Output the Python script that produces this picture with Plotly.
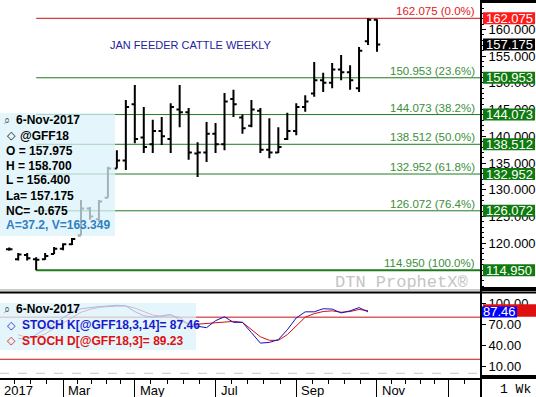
import plotly.graph_objects as go
import pandas as pd

# ---------------- data ----------------
bar_dates = list(pd.date_range("2017-01-23", periods=42, freq="7D"))  # weekly (Mondays) to 6-Nov-2017
open_ = [118.9, 117.0, 117.8, 117.0, 117.0, 118.0, 119.0, 119.8, 121.5, 126.5, 124.5, 128.5,
         134.0, 135.5, 146.0, 139.8, 138.5, 141.0, 139.5, 145.0, 144.5, 136.8, 137.0, 140.5,
         138.5, 147.0, 143.5, 142.0, 144.8, 137.5, 137.0, 139.5, 141.0, 145.5, 148.0, 150.5,
         150.0, 152.5, 152.0, 149.0, 157.8, 161.8]
high = [119.2, 118.2, 118.2, 117.4, 118.2, 119.3, 120.0, 121.0, 128.1, 126.8, 128.1, 134.3,
        137.4, 146.8, 149.6, 145.5, 143.1, 143.6, 146.2, 149.6, 145.3, 138.9, 142.7, 142.5,
        148.1, 148.7, 144.1, 146.8, 145.3, 143.4, 141.7, 144.4, 146.2, 147.7, 153.9, 151.9,
        153.7, 155.2, 153.3, 156.7, 162.075, 161.9]
low = [118.6, 116.8, 116.8, 114.95, 116.9, 118.0, 118.7, 119.7, 121.5, 124.4, 124.0, 128.5,
       134.0, 133.7, 138.7, 136.9, 136.9, 138.4, 136.9, 141.7, 135.6, 132.4, 135.2, 136.9,
       137.4, 143.6, 140.5, 141.7, 136.9, 135.9, 136.9, 139.3, 140.2, 144.6, 147.4, 148.3,
       149.0, 150.5, 148.7, 148.3, 157.1, 155.8]
close = [118.9, 117.9, 117.2, 116.9, 117.6, 119.0, 119.8, 120.8, 126.5, 125.0, 127.8, 134.0,
         135.5, 145.5, 139.5, 138.0, 141.0, 140.0, 145.5, 144.5, 137.0, 137.0, 140.5, 138.5,
         146.5, 146.0, 141.5, 145.0, 137.5, 137.0, 138.0, 141.0, 145.5, 146.5, 150.5, 150.0,
         152.5, 152.0, 150.5, 156.0, 161.8, 157.175]

stoch_dates = list(pd.date_range("2017-01-30", periods=40, freq="7D"))
stoch_k = [50, 48, 55, 63, 72, 80, 87, 92, 94, 95, 96, 97, 96, 88, 82, 80, 82, 84, 76,
           70, 67, 65, 75, 80.5, 72.6, 72.6, 58, 43, 44, 48, 62, 79, 87.6, 87.6, 92, 91.5,
           86, 89, 93.6, 87.46]
stoch_d = [55, 51, 52, 56, 64, 72, 80, 87, 91, 94, 95, 96, 96, 93, 88, 83, 81, 82, 80,
           69, 70, 71, 73, 74, 74, 72.6, 62, 52, 47, 47, 55, 68, 80, 85, 88, 89,
           87, 88, 91, 89.23]

fib_levels = [162.075, 150.953, 144.073, 138.512, 132.952, 126.072, 114.950]
fib_pcts = ["0.0%", "23.6%", "38.2%", "50.0%", "61.8%", "76.4%", "100.0%"]

price_ticks = [120, 125, 130, 135, 140, 145, 150, 155, 160]
stoch_ticks = [10, 40, 70, 100]
stoch_bands = [80, 20]

month_seps = ["2017-01-02", "2017-03-06", "2017-05-01", "2017-07-03", "2017-09-04", "2017-11-06", "2018-01-01"]
month_labels = ["2017", "Mar", "May", "Jul", "Sep", "Nov", ""]

info_lines = ["O = 157.975", "H = 158.700", "L = 156.400", "La= 157.175", "NC= -0.675"]
info_extra = "A=37.2, V=163.349"
symbol = "@GFF18"
data_date = "6-Nov-2017"
last_price = 157.175
k_last, d_last = 87.46, 89.23

# ---------------- layout constants ----------------
W, H = 536, 397
PW, PH = 481, 378           # plot area
x_range = ["2017-01-15 19:00", "2018-01-26 04:00"]
y_range = [111.45, 165.31]
y2_range = [-6.7, 113]
main_dom = [1 - 289 / PH, 1 - 1 / PH]
stoch_dom = [0, 1 - 294 / PH]
ppu = 5.348          # px per price unit
ppu2 = 0.70          # px per stoch unit

GREEN_LINE = "#1f7a1f"
GREEN_TXT = "#3a8f3a"
GREEN_BOX = "#0f7a0f"
RED = "#e02020"
FONT = "Arial, Liberation Sans, sans-serif"

fig = go.Figure()
fig.add_trace(go.Ohlc(x=bar_dates, open=open_, high=high, low=low, close=close,
                      increasing_line_color="black", decreasing_line_color="black",
                      line_width=2, tickwidth=0.36, xaxis="x", yaxis="y", hoverinfo="skip"))
fig.add_trace(go.Scatter(x=stoch_dates, y=stoch_d, mode="lines", line=dict(color="#d01010", width=1),
                         xaxis="x2", yaxis="y2", hoverinfo="skip"))
fig.add_trace(go.Scatter(x=stoch_dates, y=stoch_k, mode="lines", line=dict(color="#1010c8", width=1),
                         xaxis="x2", yaxis="y2", hoverinfo="skip"))

shapes = []
annotations = []

low_date = bar_dates[low.index(min(low))]
for lv, pct in zip(fib_levels, fib_pcts):
    is_top = pct == "0.0%"
    shapes.append(dict(type="line", xref="x", yref="y", x0=low_date, x1=x_range[1], y0=lv, y1=lv,
                       line=dict(color="#cc1010" if is_top else GREEN_LINE,
                                 width=2 if pct == "100.0%" else 1), layer="below"))
    annotations.append(dict(xref="paper", yref="y", x=477 / PW, y=lv, xanchor="right", yanchor="middle",
                            yshift=7, showarrow=False, text=f"{lv:.3f} ({pct})",
                            font=dict(family=FONT, size=11.5, color=RED if is_top else GREEN_TXT)))
    # right axis value box
    shapes.append(dict(type="rect", xref="paper", yref="y", x0=483 / PW, x1=535 / PW,
                       y0=lv - 6 / ppu, y1=lv + 6 / ppu, line=dict(width=0),
                       fillcolor="#ff1a1a" if is_top else GREEN_BOX, layer="above"))
    annotations.append(dict(xref="paper", yref="y", x=509 / PW, y=lv, xanchor="center", yanchor="middle",
                            showarrow=False, text=f"{lv:.3f}",
                            font=dict(family=FONT, size=13, color="white")))

# last price box
shapes.append(dict(type="rect", xref="paper", yref="y", x0=483 / PW, x1=535 / PW,
                   y0=last_price - 6 / ppu, y1=last_price + 6 / ppu, line=dict(width=0),
                   fillcolor="black", layer="above"))
annotations.append(dict(xref="paper", yref="y", x=509 / PW, y=last_price, xanchor="center", yanchor="middle",
                        showarrow=False, text=f"{last_price:.3f}", font=dict(family=FONT, size=13, color="white")))

# stoch bands
for b in stoch_bands:
    shapes.append(dict(type="line", xref="paper", yref="y2", x0=0, x1=1, y0=b, y1=b,
                       line=dict(color="#c81010", width=1), layer="below"))
shapes.append(dict(type="line", xref="paper", yref="y2", x0=0, x1=1, y0=0, y1=0,
                   line=dict(color="#c8c8c8", width=1, dash="dash"), layer="below"))
# stoch value boxes
shapes.append(dict(type="rect", xref="paper", yref="y2", x0=483 / PW, x1=536 / PW,
                   y0=d_last - 6 / ppu2, y1=d_last + 6.5 / ppu2, line=dict(width=0), fillcolor="#e01010", layer="above"))
shapes.append(dict(type="rect", xref="paper", yref="y2", x0=482 / PW, x1=517 / PW,
                   y0=k_last - 5.5 / ppu2, y1=k_last + 5.5 / ppu2, line=dict(width=0), fillcolor="#0000ff", layer="above"))
annotations.append(dict(xref="paper", yref="y2", x=499.5 / PW, y=k_last, xanchor="center", yanchor="middle",
                        showarrow=False, text=f"{k_last:.2f}", font=dict(family=FONT, size=13, color="white")))

# translucent info boxes (over the bars / lines)
def py(p):
    return 1 - p / PH

shapes.append(dict(type="rect", xref="paper", yref="paper", x0=0, x1=115 / PW, y0=py(236), y1=py(113),
                   line=dict(width=0), fillcolor="rgba(218,243,250,0.74)", layer="above"))
shapes.append(dict(type="rect", xref="paper", yref="paper", x0=0, x1=196 / PW, y0=py(350), y1=py(303),
                   line=dict(width=0), fillcolor="rgba(218,243,250,0.74)", layer="above"))

# panel separators / frame pieces
shapes += [
    dict(type="line", xref="paper", yref="paper", x0=0, x1=W / PW, y0=py(290), y1=py(290),
         line=dict(color="#9a9a9a", width=1), layer="above"),
    dict(type="line", xref="paper", yref="paper", x0=0, x1=W / PW, y0=py(292.5), y1=py(292.5),
         line=dict(color="black", width=2), layer="above"),
    dict(type="rect", xref="paper", yref="paper", x0=1, x1=W / PW, y0=py(291), y1=py(287),
         line=dict(width=0), fillcolor="black", layer="above"),
    dict(type="rect", xref="paper", yref="paper", x0=1, x1=W / PW, y0=py(3), y1=py(0),
         line=dict(width=0), fillcolor="black", layer="above"),
    dict(type="rect", xref="paper", yref="paper", x0=1, x1=W / PW, y0=py(379), y1=py(375),
         line=dict(width=0), fillcolor="black", layer="above"),
    dict(type="line", xref="paper", yref="paper", x0=1, x1=1, y0=py(397), y1=py(0),
         line=dict(color="black", width=2), layer="above"),
]

# title
annotations.append(dict(xref="paper", yref="paper", x=108 / PW, y=py(45), xanchor="left", yanchor="middle",
                        showarrow=False, text="JAN FEEDER CATTLE WEEKLY",
                        font=dict(family=FONT, size=11, color="#23239c")))
# watermark
annotations.append(dict(xref="paper", yref="paper", x=470 / PW, y=py(282), xanchor="right", yanchor="middle",
                        showarrow=False, text="DTN ProphetX®",
                        font=dict(family="Liberation Mono, Courier New, monospace", size=17, color="#c4c4c4")))

# info panel text
bold = dict(family=FONT, size=12, color="black")
annotations.append(dict(xref="paper", yref="paper", x=2 / PW, y=py(120), xanchor="left", yanchor="middle",
                        showarrow=False, text="⌕", font=dict(family="DejaVu Sans", size=11, color="#555")))
annotations.append(dict(xref="paper", yref="paper", x=14 / PW, y=py(120), xanchor="left", yanchor="middle",
                        showarrow=False, text=f"<b>{data_date}</b>", font=bold))
annotations.append(dict(xref="paper", yref="paper", x=5 / PW, y=py(135.5), xanchor="left", yanchor="middle",
                        showarrow=False, text="◇", font=dict(family="DejaVu Sans", size=11, color="black")))
annotations.append(dict(xref="paper", yref="paper", x=18 / PW, y=py(135.5), xanchor="left", yanchor="middle",
                        showarrow=False, text=f"<b>{symbol}</b>", font=bold))
for k, line in enumerate(info_lines):
    annotations.append(dict(xref="paper", yref="paper", x=4 / PW, y=py(150.5 + 15 * k), xanchor="left",
                            yanchor="middle", showarrow=False, text=f"<b>{line}</b>", font=bold))
annotations.append(dict(xref="paper", yref="paper", x=4 / PW, y=py(225.5), xanchor="left", yanchor="middle",
                        showarrow=False, text=f"<b>{info_extra}</b>",
                        font=dict(family=FONT, size=12, color="#2f7fc4")))

# stoch legend
annotations.append(dict(xref="paper", yref="paper", x=2 / PW, y=py(309), xanchor="left", yanchor="middle",
                        showarrow=False, text="⌕", font=dict(family="DejaVu Sans", size=11, color="#555")))
annotations.append(dict(xref="paper", yref="paper", x=14 / PW, y=py(309), xanchor="left", yanchor="middle",
                        showarrow=False, text=f"<b>{data_date}</b>", font=bold))
for yy, col, txt in [(325, "#1a1acc", f"STOCH K[{symbol},3,14]= {k_last:.2f}"),
                     (340.5, "#e01010", f"STOCH D[{symbol},3]= {d_last:.2f}")]:
    annotations.append(dict(xref="paper", yref="paper", x=5 / PW, y=py(yy), xanchor="left", yanchor="middle",
                            showarrow=False, text="◇", font=dict(family="DejaVu Sans", size=11, color=col)))
    annotations.append(dict(xref="paper", yref="paper", x=20 / PW, y=py(yy), xanchor="left", yanchor="middle",
                            showarrow=False, text=f"<b>{txt}</b>", font=dict(family=FONT, size=12, color=col)))

# x labels
for d, lab in zip(month_seps, month_labels):
    if not lab:
        continue
    if pd.Timestamp(d) < pd.Timestamp(x_range[0]):
        annotations.append(dict(xref="paper", yref="paper", x=2 / PW, y=py(390), xanchor="left",
                                yanchor="middle", showarrow=False, text=lab,
                                font=dict(family=FONT, size=13, color="black")))
    else:
        annotations.append(dict(xref="x2", yref="paper", x=d, y=py(390), xanchor="left", yanchor="middle",
                                xshift=3, showarrow=False, text=lab,
                                font=dict(family=FONT, size=13, color="black")))
annotations.append(dict(xref="paper", yref="paper", x=515 / PW, y=py(389), xanchor="center", yanchor="middle",
                        showarrow=False, text="1 Wk",
                        font=dict(family="Liberation Mono, Courier New, monospace", size=13, color="black")))

# minor ticks on the date axis: 4 between each separator pair
minor_vals = []
for a, b in zip(month_seps[:-1], month_seps[1:]):
    ta, tb = pd.Timestamp(a), pd.Timestamp(b)
    for j in range(1, 5):
        minor_vals.append(ta + (tb - ta) * j / 5)
minor_vals.append(pd.Timestamp(month_seps[-1]) + pd.Timedelta(days=12))

fig.update_layout(
    width=W, height=H, margin=dict(l=0, r=W - PW, t=0, b=H - PH),
    paper_bgcolor="white", plot_bgcolor="white", showlegend=False,
    shapes=shapes, annotations=annotations,
    xaxis=dict(domain=[0, 1], anchor="y", range=x_range, type="date", showticklabels=False,
               showgrid=False, zeroline=False, ticks="", rangeslider=dict(visible=False), showline=False),
    xaxis2=dict(domain=[0, 1], anchor="y2", range=x_range, type="date", matches="x",
                showticklabels=False, showgrid=False, zeroline=False,
                tickmode="array", tickvals=month_seps, ticks="outside", ticklen=19, tickwidth=1,
                tickcolor="black", showline=True, linecolor="black", linewidth=2,
                minor=dict(tickmode="array", tickvals=minor_vals, ticks="outside", ticklen=4,
                           tickcolor="black", tickwidth=1)),
    yaxis=dict(domain=main_dom, anchor="x", range=y_range, side="right", showgrid=False, zeroline=False,
               tickmode="array", tickvals=price_ticks, ticktext=[f"{v:.3f}" for v in price_ticks],
               ticks="outside", ticklen=4, tickcolor="black", showline=False,
               tickfont=dict(family=FONT, size=13, color="black"),
               minor=dict(tickmode="array", tickvals=list(range(112, 166)), ticks="outside", ticklen=2,
                          tickcolor="black")),
    yaxis2=dict(domain=stoch_dom, anchor="x2", range=y2_range, side="right", showgrid=False, zeroline=False,
                tickmode="array", tickvals=stoch_ticks, ticktext=[f"{v:.2f}" for v in stoch_ticks],
                ticks="outside", ticklen=4, tickcolor="black", showline=False,
                tickfont=dict(family=FONT, size=13, color="black")),
)

fig.write_html("out.html", config={"displayModeBar": False},
               post_script="document.body.style.margin='0';document.body.style.padding='0';")
